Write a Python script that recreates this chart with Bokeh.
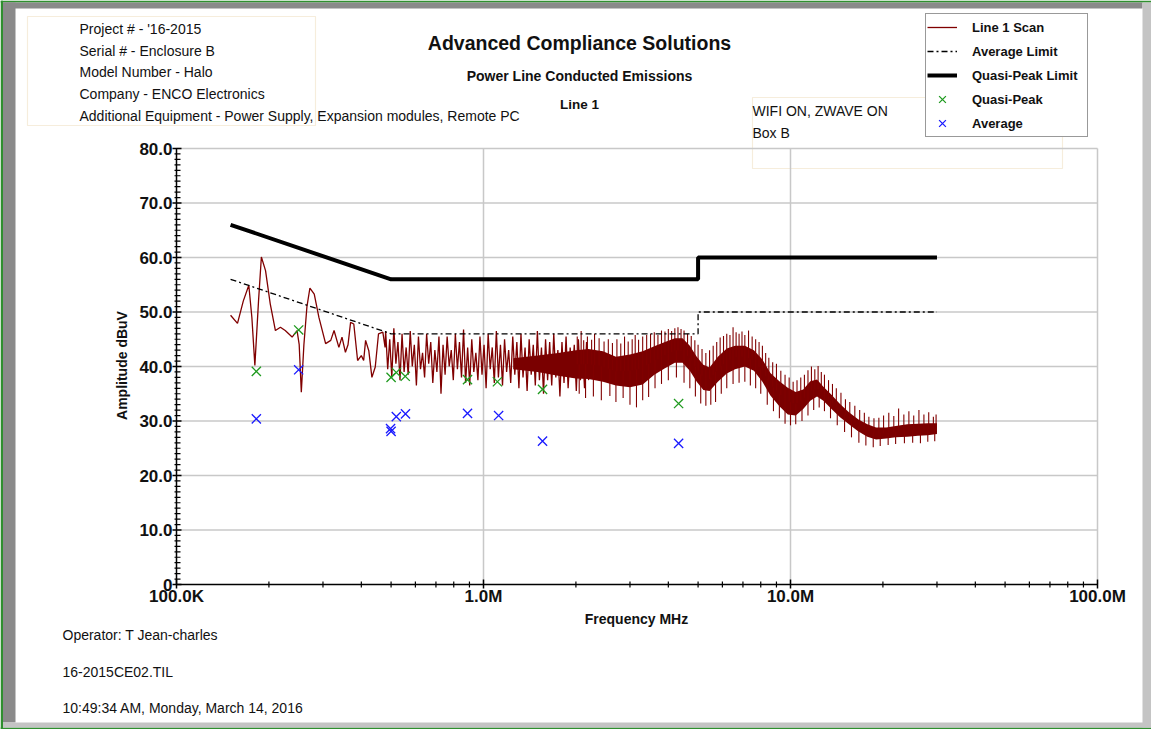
import numpy as np
from bokeh.plotting import figure
from bokeh.models import Range1d, Label, Legend, LegendItem
from bokeh.core.properties import value
from bokeh.embed import file_html
from bokeh.resources import INLINE

# ---------------- data ----------------
qp_limit_freq = [0.15, 0.5, 5.0, 5.0, 30.0]
qp_limit_db = [66.0, 56.0, 56.0, 60.0, 60.0]
avg_limit_freq = [0.15, 0.5, 5.0, 5.0, 30.0]
avg_limit_db = [56.0, 46.0, 46.0, 50.0, 50.0]

qp_freq = [0.182, 0.250, 0.500, 0.520, 0.556, 0.887, 1.110, 1.557, 4.320]
qp_db = [39.1, 46.7, 38.0, 38.9, 38.2, 37.6, 37.2, 35.8, 33.2]
avg_freq = [0.182, 0.250, 0.498, 0.500, 0.520, 0.557, 0.887, 1.120, 1.557, 4.320]
avg_db = [30.4, 39.4, 28.6, 28.1, 30.8, 31.3, 31.4, 31.0, 26.3, 25.9]

# scan, low-frequency part (single clear trace)
scan_freq_a = [0.150, 0.158, 0.165, 0.172, 0.176, 0.180, 0.185, 0.189, 0.195, 0.202,
               0.210, 0.218, 0.226, 0.238, 0.247, 0.251, 0.255, 0.260, 0.266, 0.272,
               0.281, 0.291, 0.306, 0.318, 0.326, 0.338, 0.346, 0.355, 0.362, 0.369,
               0.378, 0.389, 0.400, 0.407, 0.413, 0.423, 0.433, 0.444, 0.455, 0.470,
               0.478]
scan_db_a = [49.4, 47.9, 52.0, 54.9, 49.0, 40.2, 52.0, 60.1, 57.6, 51.5,
             46.6, 47.2, 46.6, 45.4, 46.6, 44.0, 35.3, 44.0, 51.0, 54.4,
             53.3, 49.0, 44.2, 44.8, 46.6, 43.5, 45.4, 42.6, 44.0, 48.1,
             47.8, 41.1, 42.0, 41.1, 44.8, 42.9, 38.0, 39.9, 46.0, 46.3,
             43.5]

# scan, 0.48 - 2.2 MHz (dense spikes on the sweep grid)
scan_freq_b = np.geomspace(0.48, 2.2, 100)
scan_db_b = [46.5, 39.5, 45.0, 38.0, 47.0, 40.5, 44.5, 37.5, 46.0, 39.0,
             43.5, 38.5, 46.5, 40.0, 44.0, 36.5, 45.5, 39.5, 42.5, 38.0,
             46.0, 40.5, 44.5, 37.0, 43.0, 39.0, 45.5, 35.0, 44.0, 38.5,
             45.5, 40.0, 43.0, 37.5, 46.0, 39.5, 44.5, 38.0, 46.8, 37.0,
             43.5, 36.5, 45.0, 39.0, 42.5, 37.5, 45.5, 38.5, 44.0, 36.0,
             46.0, 39.5, 43.5, 37.0, 46.5, 38.0, 44.0, 36.5, 45.0, 39.0,
             43.0, 37.0, 45.5, 38.5, 44.5, 36.0, 46.0, 38.0, 43.5, 35.5,
             45.0, 38.5, 44.0, 36.5, 46.5, 37.5, 43.5, 35.0, 45.0, 37.5,
             44.5, 36.5, 46.0, 38.0, 43.0, 34.5, 44.5, 37.0, 45.5, 36.0,
             43.5, 38.0, 44.0, 35.5, 45.0, 37.5, 43.0, 36.0, 44.5, 37.5]

# scan, solid part of the trace: upper and lower edge of its core
band_freq = [1.25, 1.5, 1.75, 2.0, 2.2, 2.45, 2.7, 3.0, 3.3, 3.6, 3.9, 4.2, 4.45,
             4.7, 4.95, 5.2, 5.45, 5.8, 6.2, 6.6, 7.1, 7.6, 8.1,
             8.6, 9.2, 9.8, 10.4, 11.0, 11.6, 12.2, 12.8, 13.6, 14.5,
             15.5, 16.6, 17.8, 19.0, 20.5, 22.0, 24.0, 26.0, 28.0, 30.0]
band_hi = [41.5, 42.0, 42.5, 43.0, 43.2, 42.8, 41.8, 42.2, 42.8, 43.7, 44.5, 45.2, 45.2,
           43.8, 41.8, 40.3, 39.8, 41.8, 43.3, 43.8, 43.8, 43.0, 41.3,
           38.8, 37.3, 36.1, 35.3, 35.8, 37.3, 37.6, 36.3, 34.8, 33.1,
           31.6, 30.3, 29.4, 28.8, 28.8, 29.1, 29.4, 29.5, 29.6, 29.6]
band_lo = [39.5, 39.0, 38.3, 37.8, 37.7, 37.2, 36.5, 36.2, 36.7, 38.5, 39.7, 40.7, 40.7,
           39.2, 37.2, 35.7, 35.5, 37.2, 38.7, 39.5, 40.0, 39.2, 37.2,
           34.7, 32.7, 31.2, 31.0, 32.2, 33.7, 34.5, 33.7, 32.2, 30.7,
           29.4, 28.1, 27.1, 26.6, 26.8, 27.0, 27.1, 27.3, 27.4, 27.6]

# spikes leaving the core (tip level)
spike_freq = [2.02, 2.08, 2.12, 2.18, 2.25, 2.30, 2.38, 2.47, 2.55, 2.63,
              2.72, 2.80, 2.88, 2.96, 3.05, 3.12, 3.20, 3.30, 3.40, 3.50,
              3.60, 3.70, 3.80, 3.90, 4.00, 4.10, 4.20, 4.30, 4.40, 4.50,
              4.62, 4.75, 4.88, 5.00, 5.15, 5.30, 5.45, 5.60, 5.75, 5.90,
              6.05, 6.20, 6.35, 6.50, 6.65, 6.80, 6.95, 7.10, 7.30, 7.50,
              7.70, 7.90, 8.10, 8.30, 8.50, 8.75, 9.00, 9.30, 9.60, 9.90,
              10.2, 10.5, 10.8, 11.1, 11.4, 11.7, 12.0, 12.3, 12.6, 12.9,
              13.3, 13.7, 14.1, 14.6, 15.1, 15.6, 16.2, 16.8, 17.4, 18.0,
              18.7, 19.4, 20.1, 20.9, 21.7, 22.5, 23.4, 24.3, 25.2, 26.2,
              27.2, 28.2, 29.2, 29.8,
              2.05, 2.15, 2.28, 2.42, 2.58, 2.70, 2.85, 3.00, 3.15, 3.30,
              3.45, 3.62, 3.80, 4.00, 4.25, 4.50, 4.70, 4.90, 5.10, 5.30,
              5.50, 5.70, 5.95, 6.20, 6.50, 6.80, 7.10, 7.40, 7.70, 8.00,
              8.40, 8.80, 9.20, 9.60, 10.0, 10.4, 10.9, 11.4, 11.9, 12.4,
              12.9, 13.5, 14.2, 15.0, 15.8, 16.7, 17.6, 18.6, 19.6, 20.8,
              22.0, 23.5, 25.0, 26.5, 28.0, 29.5]
spike_db = [45.5, 46.5, 44.8, 45.5, 44.9, 46.0, 45.2, 44.6, 45.0, 44.3,
            45.0, 44.2, 45.5, 44.6, 45.0, 45.8, 44.9, 45.5, 45.8, 46.0,
            46.3, 45.8, 46.6, 46.4, 46.9, 46.5, 47.0, 47.2, 46.9, 46.6,
            46.0, 45.6, 44.8, 44.0, 43.2, 42.5, 43.0, 43.8, 44.5, 45.3,
            45.6, 46.0, 45.8, 47.2, 46.3, 46.0, 46.4, 45.8, 46.6, 45.5,
            45.0, 44.5, 43.8, 42.5, 41.6, 40.8, 40.5, 39.2, 38.5, 38.0,
            37.2, 37.5, 38.0, 38.5, 39.3, 40.0, 39.5, 40.1, 39.0, 38.5,
            37.5, 36.8, 36.0, 35.2, 34.0, 33.5, 32.8, 32.0, 31.5, 30.8,
            30.5, 30.6, 31.0, 31.5, 30.9, 32.3, 31.2, 31.8, 31.0, 32.0,
            31.2, 31.6, 30.8, 31.2,
            35.0, 34.2, 34.5, 33.8, 34.6, 33.5, 34.2, 33.0, 32.5, 33.8,
            34.4, 36.0, 36.8, 37.5, 38.0, 37.0, 36.0, 34.5, 33.2, 32.8,
            33.0, 33.5, 35.0, 36.0, 36.8, 37.0, 37.2, 36.5, 36.0, 35.0,
            33.0, 31.8, 30.5, 29.5, 29.2, 29.4, 30.0, 31.0, 32.0, 32.5,
            31.8, 30.5, 29.2, 28.0, 27.0, 26.0, 25.5, 25.2, 25.4, 25.6,
            25.8, 25.9, 26.0, 25.9, 26.2, 26.3]

x_tick_vals = [0.1, 1.0, 10.0, 100.0]
x_tick_labels = ["100.0K", "1.0M", "10.0M", "100.0M"]
y_tick_vals = [0, 10, 20, 30, 40, 50, 60, 70, 80]
y_tick_labels = ["0", "10.0", "20.0", "30.0", "40.0", "50.0", "60.0", "70.0", "80.0"]

info_lines = ["Project # - '16-2015", "Serial # - Enclosure B", "Model Number - Halo",
              "Company - ENCO Electronics",
              "Additional Equipment - Power Supply, Expansion modules, Remote PC"]
footer_lines = ["Operator: T Jean-charles", "16-2015CE02.TIL",
                "10:49:34 AM, Monday, March 14, 2016"]

# ---------------- geometry helpers (page pixel -> data) ----------------
W, H = 1151, 729
X0, DEC = 176.0, 307.0      # x pixel of 100 kHz, pixels per decade
Y0, PPU = 584.0, 5.45       # y pixel of 0 dBuV, pixels per dB


def fx(px):
    return 0.1 * 10 ** ((px - X0) / DEC)


def fy(py):
    return (Y0 - py) / PPU


FONT = "Liberation Sans"
SCAN = "#800000"
INK = "#111111"

p = figure(width=W, height=H, min_border=0, title=None,
           x_axis_type="log", x_axis_location=None, y_axis_location=None,
           x_range=Range1d(fx(0), fx(W)), y_range=Range1d(fy(H), fy(0)),
           output_backend="svg", toolbar_location=None)
p.outline_line_color = None
p.background_fill_color = "white"
p.border_fill_color = "white"
p.grid.visible = False
p.xgrid.grid_line_color = None
p.ygrid.grid_line_color = None

# window bevel (left, right, top, bottom in page pixels)
bev_l = [0, 0, 0, 2.5, 2.5, 1142, 2.5]
bev_r = [2.5, W, W, 15, 1142, W, W]
bev_t = [0, 0, H - 2, 2, 2, 2, H - 7]
bev_b = [H, 2, H, H - 7, 8, H - 2, H - 2]
bev_c = ["#2f8f2f", "#2f8f2f", "#2f8f2f", "#8a8a8a", "#8a8a8a", "#c4c4c4", "#c4c4c4"]
p.quad(left=[fx(v) for v in bev_l], right=[fx(v) for v in bev_r],
       top=[fy(v) for v in bev_t], bottom=[fy(v) for v in bev_b],
       fill_color=bev_c, line_color=None)
# faint text frames
p.quad(left=[fx(27), fx(752)], right=[fx(315), fx(1062)],
       top=[fy(16), fy(97)], bottom=[fy(125), fy(168)],
       fill_alpha=0, line_color="#f6eddc", line_width=1.2)

# grid
xmin, xmax = x_tick_vals[0], x_tick_vals[-1]
ymin, ymax = y_tick_vals[0], y_tick_vals[-1]
p.segment(x0=xmin, x1=xmax, y0=y_tick_vals[1:], y1=y_tick_vals[1:],
          line_color="#c8c8c8", line_width=1.5)
p.segment(x0=x_tick_vals[1:], x1=x_tick_vals[1:], y0=ymin, y1=ymax,
          line_color="#c8c8c8", line_width=1.5)

# scan trace
r_scan = p.line(scan_freq_a + list(scan_freq_b), scan_db_a + scan_db_b,
                line_color=SCAN, line_width=1.3)
p.varea(x=band_freq, y1=band_lo, y2=band_hi, fill_color="#7a0000")
mid = np.interp(np.log(spike_freq), np.log(band_freq),
                (np.array(band_hi) + np.array(band_lo)) / 2)
p.segment(x0=spike_freq, y0=mid, x1=spike_freq, y1=spike_db,
          line_color=SCAN, line_width=1.1)

# limits
r_avg = p.line(avg_limit_freq, avg_limit_db, line_color="black", line_width=1.3,
               line_dash="6 3 2 3")
r_qpl = p.line(qp_limit_freq, qp_limit_db, line_color="black", line_width=4)

# measured points
r_qp = p.scatter(qp_freq, qp_db, marker="x", size=13, line_color="#1f9a1f",
                 line_width=1.3)
r_av = p.scatter(avg_freq, avg_db, marker="x", size=13, line_color="#1a1aff",
                 line_width=1.3)

# axes (drawn on the same scales)
p.segment(x0=[xmin, xmin], y0=[ymin, ymin], x1=[xmin, xmax], y1=[ymax, ymin],
          line_color="black", line_width=1.5)
y_minor = [v for v in range(ymin, ymax + 1) if v % 10]
x_minor = [m * 10.0 ** e for e in (-1, 0, 1) for m in range(2, 10)]
p.segment(x0=fx(X0 - 4), x1=fx(X0 + 5), y0=y_tick_vals, y1=y_tick_vals,
          line_color="black", line_width=1.5)
p.segment(x0=fx(X0 - 2), x1=fx(X0 + 4), y0=y_minor, y1=y_minor,
          line_color="black", line_width=1.2)
p.segment(x0=x_tick_vals, x1=x_tick_vals, y0=fy(Y0 + 4), y1=fy(Y0 - 5),
          line_color="black", line_width=1.5)
p.segment(x0=x_minor, x1=x_minor, y0=fy(Y0 + 3), y1=fy(Y0 - 3),
          line_color="black", line_width=1.2)
p.text(x=fx(X0 - 4), y=y_tick_vals, text=y_tick_labels, text_align="right",
       text_baseline="middle", text_font=value(FONT), text_font_style="bold",
       text_font_size="17px", text_color=INK)
p.text(x=x_tick_vals, y=fy(Y0 + 12), text=x_tick_labels, text_align="center",
       text_baseline="middle", text_font=value(FONT), text_font_style="bold",
       text_font_size="17px", text_color=INK)
p.add_layout(Label(x=fx(636), y=fy(618), text="Frequency MHz", text_font=FONT,
                   text_font_size="14px", text_font_style="bold", text_align="center",
                   text_baseline="middle", text_color=INK))
p.add_layout(Label(x=fx(121), y=fy(365), text="Amplitude dBuV", text_font=FONT,
                   text_font_size="14px", text_font_style="bold", text_align="center",
                   text_baseline="middle", angle=np.pi / 2, text_color=INK))

legend = Legend(items=[LegendItem(label="Line 1 Scan", renderers=[r_scan]),
                       LegendItem(label="Average Limit", renderers=[r_avg]),
                       LegendItem(label="Quasi-Peak Limit", renderers=[r_qpl]),
                       LegendItem(label="Quasi-Peak", renderers=[r_qp]),
                       LegendItem(label="Average", renderers=[r_av])],
                location=(925, H - 137), padding=1, spacing=0,
                glyph_width=30, glyph_height=24, label_height=24, label_width=114,
                label_standoff=15, margin=0,
                label_text_font=FONT, label_text_font_style="bold",
                label_text_font_size="13px", label_text_color=INK,
                border_line_color="#333333", border_line_width=1.2,
                background_fill_color="white", background_fill_alpha=1.0)
p.add_layout(legend, "center")


def add_text(px, py, txt, size="14px", style="normal", align="left"):
    p.add_layout(Label(x=fx(px), y=fy(py), text=txt, text_font=FONT,
                       text_font_size=size, text_font_style=style,
                       text_align=align, text_baseline="middle", text_color=INK))


for t, yy in zip(info_lines, [28, 50, 71, 93, 115]):
    add_text(79, yy, t)
add_text(579, 42, "Advanced Compliance Solutions", "19.5px", "bold", "center")
add_text(579, 75, "Power Line Conducted Emissions", "14px", "bold", "center")
add_text(579, 104, "Line 1", "13.5px", "bold", "center")
add_text(752, 110, "WIFI ON, ZWAVE ON", "14px")
add_text(752, 132, "Box B", "14px")
for t, yy in zip(footer_lines, [634, 671, 707]):
    add_text(62, yy, t)

open("out.html", "w").write(file_html(p, INLINE))
